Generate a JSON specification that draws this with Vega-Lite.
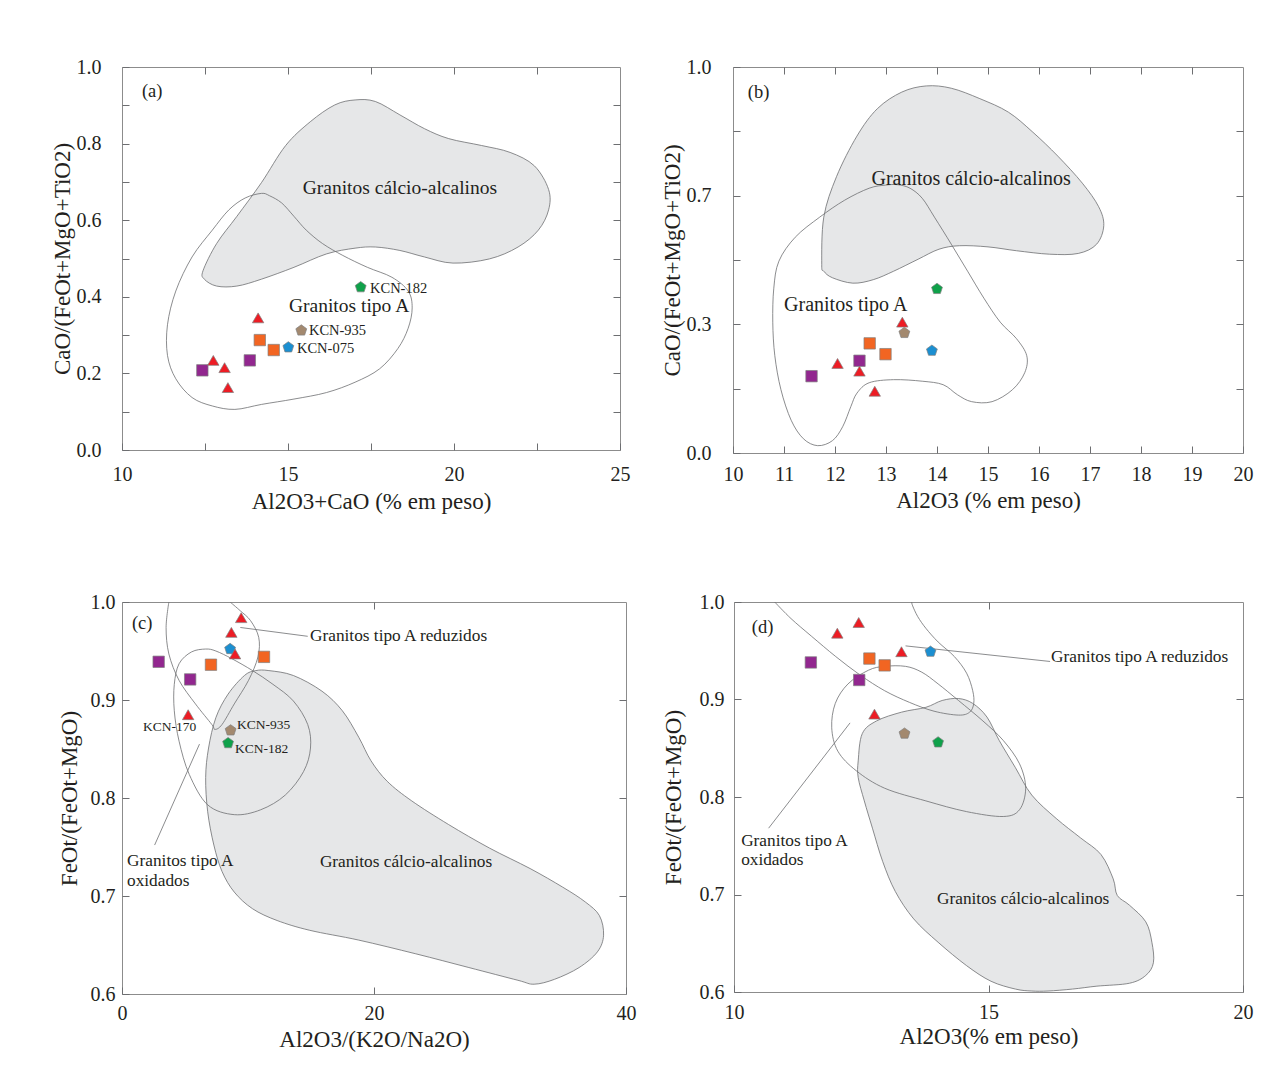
{
"$schema": "https://vega.github.io/schema/vega-lite/v6.json",
"background": "white",
"padding": {"left": 50, "top": 56, "right": 5, "bottom": 5},
"datasets": {
"samples": [
{"p":"a","g":"sqp","x":12.42,"y":0.208},{"p":"a","g":"tri","x":12.75,"y":0.234},{"p":"a","g":"tri","x":13.09,"y":0.215},{"p":"a","g":"tri","x":13.19,"y":0.163},{"p":"a","g":"sqp","x":13.85,"y":0.234},{"p":"a","g":"tri","x":14.10,"y":0.345},{"p":"a","g":"sqo","x":14.15,"y":0.287},{"p":"a","g":"sqo","x":14.57,"y":0.261},{"p":"a","g":"blue","x":15.01,"y":0.268},{"p":"a","g":"brown","x":15.40,"y":0.312},{"p":"a","g":"green","x":17.19,"y":0.425},
{"p":"b","g":"sqp","x":11.54,"y":0.199},{"p":"b","g":"tri","x":12.05,"y":0.232},{"p":"b","g":"sqp","x":12.48,"y":0.239},{"p":"b","g":"tri","x":12.48,"y":0.212},{"p":"b","g":"tri","x":12.78,"y":0.160},{"p":"b","g":"sqo","x":12.68,"y":0.284},{"p":"b","g":"sqo","x":12.99,"y":0.256},{"p":"b","g":"tri","x":13.32,"y":0.339},{"p":"b","g":"brown","x":13.36,"y":0.311},{"p":"b","g":"blue","x":13.90,"y":0.265},{"p":"b","g":"green","x":14.00,"y":0.425},
{"p":"c","g":"sqp","x":2.91,"y":0.939},{"p":"c","g":"sqp","x":5.41,"y":0.921},{"p":"c","g":"sqo","x":7.06,"y":0.936},{"p":"c","g":"blue","x":8.58,"y":0.952},{"p":"c","g":"tri","x":8.68,"y":0.969},{"p":"c","g":"tri","x":9.46,"y":0.984},{"p":"c","g":"tri","x":8.97,"y":0.947},{"p":"c","g":"sqo","x":11.27,"y":0.944},{"p":"c","g":"tri","x":5.25,"y":0.885},{"p":"c","g":"brown","x":8.62,"y":0.869},{"p":"c","g":"green","x":8.42,"y":0.856},
{"p":"d","g":"sqp","x":11.51,"y":0.938},{"p":"d","g":"tri","x":12.03,"y":0.968},{"p":"d","g":"tri","x":12.45,"y":0.979},{"p":"d","g":"sqo","x":12.66,"y":0.942},{"p":"d","g":"sqo","x":12.96,"y":0.935},{"p":"d","g":"tri","x":13.29,"y":0.949},{"p":"d","g":"blue","x":13.86,"y":0.949},{"p":"d","g":"sqp","x":12.46,"y":0.920},{"p":"d","g":"tri","x":12.76,"y":0.885},{"p":"d","g":"brown","x":13.35,"y":0.865},{"p":"d","g":"green","x":14.01,"y":0.856}
],
"fields": [
{"p":"a","f":"calc","i":0,"x":12.44,"y":0.468},{"p":"a","f":"calc","i":1,"x":12.85,"y":0.539},{"p":"a","f":"calc","i":2,"x":13.46,"y":0.610},{"p":"a","f":"calc","i":3,"x":14.20,"y":0.698},{"p":"a","f":"calc","i":4,"x":14.93,"y":0.795},{"p":"a","f":"calc","i":5,"x":15.67,"y":0.857},{"p":"a","f":"calc","i":6,"x":16.41,"y":0.901},{"p":"a","f":"calc","i":7,"x":17.02,"y":0.914},{"p":"a","f":"calc","i":8,"x":17.63,"y":0.910},{"p":"a","f":"calc","i":9,"x":18.37,"y":0.875},{"p":"a","f":"calc","i":10,"x":19.11,"y":0.839},{"p":"a","f":"calc","i":11,"x":19.84,"y":0.813},{"p":"a","f":"calc","i":12,"x":20.83,"y":0.795},{"p":"a","f":"calc","i":13,"x":21.69,"y":0.777},{"p":"a","f":"calc","i":14,"x":22.42,"y":0.742},{"p":"a","f":"calc","i":15,"x":22.85,"y":0.680},{"p":"a","f":"calc","i":16,"x":22.85,"y":0.627},{"p":"a","f":"calc","i":17,"x":22.54,"y":0.574},{"p":"a","f":"calc","i":18,"x":21.93,"y":0.530},{"p":"a","f":"calc","i":19,"x":21.07,"y":0.499},{"p":"a","f":"calc","i":20,"x":19.97,"y":0.488},{"p":"a","f":"calc","i":21,"x":19.11,"y":0.504},{"p":"a","f":"calc","i":22,"x":18.37,"y":0.521},{"p":"a","f":"calc","i":23,"x":17.63,"y":0.530},{"p":"a","f":"calc","i":24,"x":17.02,"y":0.527},{"p":"a","f":"calc","i":25,"x":16.16,"y":0.512},{"p":"a","f":"calc","i":26,"x":15.18,"y":0.477},{"p":"a","f":"calc","i":27,"x":14.20,"y":0.446},{"p":"a","f":"calc","i":28,"x":13.46,"y":0.428},{"p":"a","f":"calc","i":29,"x":12.85,"y":0.428},{"p":"a","f":"calc","i":30,"x":12.48,"y":0.446},
{"p":"a","f":"tA","i":0,"x":14.20,"y":0.670},{"p":"a","f":"tA","i":1,"x":13.71,"y":0.658},{"p":"a","f":"tA","i":2,"x":13.22,"y":0.627},{"p":"a","f":"tA","i":3,"x":12.72,"y":0.574},{"p":"a","f":"tA","i":4,"x":12.11,"y":0.504},{"p":"a","f":"tA","i":5,"x":11.62,"y":0.415},{"p":"a","f":"tA","i":6,"x":11.37,"y":0.327},{"p":"a","f":"tA","i":7,"x":11.37,"y":0.247},{"p":"a","f":"tA","i":8,"x":11.62,"y":0.186},{"p":"a","f":"tA","i":9,"x":12.11,"y":0.137},{"p":"a","f":"tA","i":10,"x":12.72,"y":0.115},{"p":"a","f":"tA","i":11,"x":13.40,"y":0.106},{"p":"a","f":"tA","i":12,"x":14.20,"y":0.119},{"p":"a","f":"tA","i":13,"x":15.18,"y":0.133},{"p":"a","f":"tA","i":14,"x":16.16,"y":0.150},{"p":"a","f":"tA","i":15,"x":17.02,"y":0.177},{"p":"a","f":"tA","i":16,"x":17.76,"y":0.212},{"p":"a","f":"tA","i":17,"x":18.31,"y":0.265},{"p":"a","f":"tA","i":18,"x":18.62,"y":0.318},{"p":"a","f":"tA","i":19,"x":18.74,"y":0.371},{"p":"a","f":"tA","i":20,"x":18.62,"y":0.415},{"p":"a","f":"tA","i":21,"x":18.13,"y":0.451},{"p":"a","f":"tA","i":22,"x":17.39,"y":0.477},{"p":"a","f":"tA","i":23,"x":16.65,"y":0.508},{"p":"a","f":"tA","i":24,"x":16.04,"y":0.539},{"p":"a","f":"tA","i":25,"x":15.55,"y":0.574},{"p":"a","f":"tA","i":26,"x":15.18,"y":0.610},{"p":"a","f":"tA","i":27,"x":14.81,"y":0.645},{"p":"a","f":"tA","i":28,"x":14.44,"y":0.664},
{"p":"b","f":"calc","i":0,"x":11.74,"y":0.489},{"p":"b","f":"calc","i":1,"x":11.78,"y":0.611},{"p":"b","f":"calc","i":2,"x":12.03,"y":0.716},{"p":"b","f":"calc","i":3,"x":12.43,"y":0.821},{"p":"b","f":"calc","i":4,"x":12.83,"y":0.892},{"p":"b","f":"calc","i":5,"x":13.31,"y":0.935},{"p":"b","f":"calc","i":6,"x":13.79,"y":0.951},{"p":"b","f":"calc","i":7,"x":14.28,"y":0.945},{"p":"b","f":"calc","i":8,"x":14.84,"y":0.918},{"p":"b","f":"calc","i":9,"x":15.40,"y":0.883},{"p":"b","f":"calc","i":10,"x":15.88,"y":0.831},{"p":"b","f":"calc","i":11,"x":16.37,"y":0.769},{"p":"b","f":"calc","i":12,"x":16.85,"y":0.699},{"p":"b","f":"calc","i":13,"x":17.17,"y":0.638},{"p":"b","f":"calc","i":14,"x":17.27,"y":0.589},{"p":"b","f":"calc","i":15,"x":17.13,"y":0.541},{"p":"b","f":"calc","i":16,"x":16.77,"y":0.517},{"p":"b","f":"calc","i":17,"x":16.21,"y":0.515},{"p":"b","f":"calc","i":18,"x":15.56,"y":0.524},{"p":"b","f":"calc","i":19,"x":15.00,"y":0.534},{"p":"b","f":"calc","i":20,"x":14.44,"y":0.537},{"p":"b","f":"calc","i":21,"x":14.04,"y":0.528},{"p":"b","f":"calc","i":22,"x":13.63,"y":0.502},{"p":"b","f":"calc","i":23,"x":13.15,"y":0.471},{"p":"b","f":"calc","i":24,"x":12.75,"y":0.449},{"p":"b","f":"calc","i":25,"x":12.35,"y":0.440},{"p":"b","f":"calc","i":26,"x":11.95,"y":0.454},{"p":"b","f":"calc","i":27,"x":11.78,"y":0.471},
{"p":"b","f":"tA","i":0,"x":12.99,"y":0.694},{"p":"b","f":"tA","i":1,"x":12.67,"y":0.686},{"p":"b","f":"tA","i":2,"x":12.19,"y":0.655},{"p":"b","f":"tA","i":3,"x":11.70,"y":0.611},{"p":"b","f":"tA","i":4,"x":11.22,"y":0.559},{"p":"b","f":"tA","i":5,"x":10.90,"y":0.497},{"p":"b","f":"tA","i":6,"x":10.80,"y":0.427},{"p":"b","f":"tA","i":7,"x":10.78,"y":0.339},{"p":"b","f":"tA","i":8,"x":10.82,"y":0.252},{"p":"b","f":"tA","i":9,"x":10.94,"y":0.164},{"p":"b","f":"tA","i":10,"x":11.14,"y":0.085},{"p":"b","f":"tA","i":11,"x":11.38,"y":0.037},{"p":"b","f":"tA","i":12,"x":11.66,"y":0.019},{"p":"b","f":"tA","i":13,"x":11.95,"y":0.032},{"p":"b","f":"tA","i":14,"x":12.15,"y":0.068},{"p":"b","f":"tA","i":15,"x":12.31,"y":0.120},{"p":"b","f":"tA","i":16,"x":12.43,"y":0.155},{"p":"b","f":"tA","i":17,"x":12.67,"y":0.182},{"p":"b","f":"tA","i":18,"x":13.15,"y":0.190},{"p":"b","f":"tA","i":19,"x":13.71,"y":0.186},{"p":"b","f":"tA","i":20,"x":14.12,"y":0.177},{"p":"b","f":"tA","i":21,"x":14.40,"y":0.151},{"p":"b","f":"tA","i":22,"x":14.68,"y":0.133},{"p":"b","f":"tA","i":23,"x":15.08,"y":0.133},{"p":"b","f":"tA","i":24,"x":15.48,"y":0.164},{"p":"b","f":"tA","i":25,"x":15.72,"y":0.208},{"p":"b","f":"tA","i":26,"x":15.76,"y":0.252},{"p":"b","f":"tA","i":27,"x":15.56,"y":0.296},{"p":"b","f":"tA","i":28,"x":15.24,"y":0.339},{"p":"b","f":"tA","i":29,"x":14.92,"y":0.401},{"p":"b","f":"tA","i":30,"x":14.60,"y":0.471},{"p":"b","f":"tA","i":31,"x":14.28,"y":0.541},{"p":"b","f":"tA","i":32,"x":13.95,"y":0.611},{"p":"b","f":"tA","i":33,"x":13.71,"y":0.660},{"p":"b","f":"tA","i":34,"x":13.47,"y":0.686},{"p":"b","f":"tA","i":35,"x":13.23,"y":0.695},
{"p":"c","f":"calc","i":0,"x":10.62,"y":0.930},{"p":"c","f":"calc","i":1,"x":9.72,"y":0.925},{"p":"c","f":"calc","i":2,"x":8.42,"y":0.906},{"p":"c","f":"calc","i":3,"x":7.45,"y":0.882},{"p":"c","f":"calc","i":4,"x":6.87,"y":0.851},{"p":"c","f":"calc","i":5,"x":6.64,"y":0.821},{"p":"c","f":"calc","i":6,"x":6.80,"y":0.786},{"p":"c","f":"calc","i":7,"x":7.29,"y":0.752},{"p":"c","f":"calc","i":8,"x":7.94,"y":0.725},{"p":"c","f":"calc","i":9,"x":8.91,"y":0.704},{"p":"c","f":"calc","i":10,"x":10.36,"y":0.687},{"p":"c","f":"calc","i":11,"x":12.31,"y":0.675},{"p":"c","f":"calc","i":12,"x":14.90,"y":0.665},{"p":"c","f":"calc","i":13,"x":18.79,"y":0.655},{"p":"c","f":"calc","i":14,"x":23.32,"y":0.641},{"p":"c","f":"calc","i":15,"x":27.53,"y":0.627},{"p":"c","f":"calc","i":16,"x":31.42,"y":0.614},{"p":"c","f":"calc","i":17,"x":32.71,"y":0.610},{"p":"c","f":"calc","i":18,"x":34.33,"y":0.615},{"p":"c","f":"calc","i":19,"x":36.28,"y":0.627},{"p":"c","f":"calc","i":20,"x":37.73,"y":0.643},{"p":"c","f":"calc","i":21,"x":38.22,"y":0.660},{"p":"c","f":"calc","i":22,"x":37.89,"y":0.680},{"p":"c","f":"calc","i":23,"x":36.76,"y":0.694},{"p":"c","f":"calc","i":24,"x":34.98,"y":0.709},{"p":"c","f":"calc","i":25,"x":32.39,"y":0.728},{"p":"c","f":"calc","i":26,"x":29.15,"y":0.749},{"p":"c","f":"calc","i":27,"x":25.91,"y":0.773},{"p":"c","f":"calc","i":28,"x":23.00,"y":0.797},{"p":"c","f":"calc","i":29,"x":21.05,"y":0.817},{"p":"c","f":"calc","i":30,"x":19.76,"y":0.838},{"p":"c","f":"calc","i":31,"x":18.79,"y":0.862},{"p":"c","f":"calc","i":32,"x":17.49,"y":0.889},{"p":"c","f":"calc","i":33,"x":15.87,"y":0.909},{"p":"c","f":"calc","i":34,"x":13.60,"y":0.925},{"p":"c","f":"calc","i":35,"x":11.66,"y":0.930},
{"p":"c","f":"red","i":0,"x":3.72,"y":1.0},{"p":"c","f":"red","i":1,"x":3.50,"y":0.974},{"p":"c","f":"red","i":2,"x":3.72,"y":0.947},{"p":"c","f":"red","i":3,"x":4.53,"y":0.920},{"p":"c","f":"red","i":4,"x":5.83,"y":0.896},{"p":"c","f":"red","i":5,"x":7.13,"y":0.875},{"p":"c","f":"red","i":6,"x":7.38,"y":0.870},{"p":"c","f":"red","i":7,"x":7.94,"y":0.875},{"p":"c","f":"red","i":8,"x":8.91,"y":0.896},{"p":"c","f":"red","i":9,"x":10.04,"y":0.920},{"p":"c","f":"red","i":10,"x":10.79,"y":0.944},{"p":"c","f":"red","i":11,"x":10.85,"y":0.964},{"p":"c","f":"red","i":12,"x":10.20,"y":0.981},{"p":"c","f":"red","i":13,"x":9.39,"y":0.991},{"p":"c","f":"red","i":14,"x":8.58,"y":1.0},
{"p":"c","f":"ox","i":0,"x":6.64,"y":0.952},{"p":"c","f":"ox","i":1,"x":5.51,"y":0.949},{"p":"c","f":"ox","i":2,"x":4.53,"y":0.937},{"p":"c","f":"ox","i":3,"x":4.15,"y":0.916},{"p":"c","f":"ox","i":4,"x":4.15,"y":0.889},{"p":"c","f":"ox","i":5,"x":4.53,"y":0.858},{"p":"c","f":"ox","i":6,"x":5.34,"y":0.824},{"p":"c","f":"ox","i":7,"x":6.80,"y":0.793},{"p":"c","f":"ox","i":8,"x":8.91,"y":0.783},{"p":"c","f":"ox","i":9,"x":11.01,"y":0.788},{"p":"c","f":"ox","i":10,"x":12.96,"y":0.803},{"p":"c","f":"ox","i":11,"x":14.41,"y":0.827},{"p":"c","f":"ox","i":12,"x":14.96,"y":0.851},{"p":"c","f":"ox","i":13,"x":14.74,"y":0.875},{"p":"c","f":"ox","i":14,"x":13.60,"y":0.899},{"p":"c","f":"ox","i":15,"x":11.98,"y":0.916},{"p":"c","f":"ox","i":16,"x":10.36,"y":0.930},{"p":"c","f":"ox","i":17,"x":8.74,"y":0.942},{"p":"c","f":"ox","i":18,"x":7.45,"y":0.950},
{"p":"d","f":"calc","i":0,"x":12.44,"y":0.837},{"p":"d","f":"calc","i":1,"x":12.52,"y":0.865},{"p":"d","f":"calc","i":2,"x":12.80,"y":0.878},{"p":"d","f":"calc","i":3,"x":13.29,"y":0.887},{"p":"d","f":"calc","i":4,"x":13.77,"y":0.892},{"p":"d","f":"calc","i":5,"x":14.09,"y":0.899},{"p":"d","f":"calc","i":6,"x":14.41,"y":0.901},{"p":"d","f":"calc","i":7,"x":14.69,"y":0.896},{"p":"d","f":"calc","i":8,"x":14.97,"y":0.882},{"p":"d","f":"calc","i":9,"x":15.21,"y":0.858},{"p":"d","f":"calc","i":10,"x":15.53,"y":0.830},{"p":"d","f":"calc","i":11,"x":15.85,"y":0.802},{"p":"d","f":"calc","i":12,"x":16.33,"y":0.778},{"p":"d","f":"calc","i":13,"x":16.81,"y":0.758},{"p":"d","f":"calc","i":14,"x":17.21,"y":0.741},{"p":"d","f":"calc","i":15,"x":17.45,"y":0.716},{"p":"d","f":"calc","i":16,"x":17.53,"y":0.699},{"p":"d","f":"calc","i":17,"x":17.77,"y":0.689},{"p":"d","f":"calc","i":18,"x":18.09,"y":0.672},{"p":"d","f":"calc","i":19,"x":18.21,"y":0.651},{"p":"d","f":"calc","i":20,"x":18.24,"y":0.630},{"p":"d","f":"calc","i":21,"x":18.09,"y":0.617},{"p":"d","f":"calc","i":22,"x":17.77,"y":0.609},{"p":"d","f":"calc","i":23,"x":17.13,"y":0.606},{"p":"d","f":"calc","i":24,"x":16.65,"y":0.603},{"p":"d","f":"calc","i":25,"x":16.17,"y":0.601},{"p":"d","f":"calc","i":26,"x":15.85,"y":0.601},{"p":"d","f":"calc","i":27,"x":15.53,"y":0.603},{"p":"d","f":"calc","i":28,"x":15.05,"y":0.611},{"p":"d","f":"calc","i":29,"x":14.57,"y":0.627},{"p":"d","f":"calc","i":30,"x":14.01,"y":0.651},{"p":"d","f":"calc","i":31,"x":13.53,"y":0.675},{"p":"d","f":"calc","i":32,"x":13.17,"y":0.703},{"p":"d","f":"calc","i":33,"x":12.92,"y":0.734},{"p":"d","f":"calc","i":34,"x":12.72,"y":0.768},{"p":"d","f":"calc","i":35,"x":12.56,"y":0.796},{"p":"d","f":"calc","i":36,"x":12.44,"y":0.820},
{"p":"d","f":"red","i":0,"x":10.80,"y":1.0},{"p":"d","f":"red","i":1,"x":11.12,"y":0.983},{"p":"d","f":"red","i":2,"x":11.52,"y":0.965},{"p":"d","f":"red","i":3,"x":12.00,"y":0.944},{"p":"d","f":"red","i":4,"x":12.48,"y":0.925},{"p":"d","f":"red","i":5,"x":12.96,"y":0.909},{"p":"d","f":"red","i":6,"x":13.45,"y":0.897},{"p":"d","f":"red","i":7,"x":13.93,"y":0.888},{"p":"d","f":"red","i":8,"x":14.41,"y":0.884},{"p":"d","f":"red","i":9,"x":14.63,"y":0.887},{"p":"d","f":"red","i":10,"x":14.71,"y":0.896},{"p":"d","f":"red","i":11,"x":14.69,"y":0.909},{"p":"d","f":"red","i":12,"x":14.57,"y":0.927},{"p":"d","f":"red","i":13,"x":14.33,"y":0.944},{"p":"d","f":"red","i":14,"x":14.01,"y":0.959},{"p":"d","f":"red","i":15,"x":13.77,"y":0.973},{"p":"d","f":"red","i":16,"x":13.61,"y":0.985},{"p":"d","f":"red","i":17,"x":13.51,"y":0.996},{"p":"d","f":"red","i":18,"x":13.49,"y":1.0},
{"p":"d","f":"ox","i":0,"x":12.96,"y":0.934},{"p":"d","f":"ox","i":1,"x":12.64,"y":0.930},{"p":"d","f":"ox","i":2,"x":12.24,"y":0.916},{"p":"d","f":"ox","i":3,"x":11.99,"y":0.896},{"p":"d","f":"ox","i":4,"x":11.92,"y":0.871},{"p":"d","f":"ox","i":5,"x":12.04,"y":0.847},{"p":"d","f":"ox","i":6,"x":12.40,"y":0.827},{"p":"d","f":"ox","i":7,"x":12.96,"y":0.809},{"p":"d","f":"ox","i":8,"x":13.77,"y":0.796},{"p":"d","f":"ox","i":9,"x":14.57,"y":0.785},{"p":"d","f":"ox","i":10,"x":15.29,"y":0.780},{"p":"d","f":"ox","i":11,"x":15.61,"y":0.787},{"p":"d","f":"ox","i":12,"x":15.73,"y":0.809},{"p":"d","f":"ox","i":13,"x":15.61,"y":0.834},{"p":"d","f":"ox","i":14,"x":15.29,"y":0.858},{"p":"d","f":"ox","i":15,"x":14.89,"y":0.878},{"p":"d","f":"ox","i":16,"x":14.41,"y":0.899},{"p":"d","f":"ox","i":17,"x":14.01,"y":0.916},{"p":"d","f":"ox","i":18,"x":13.69,"y":0.928},{"p":"d","f":"ox","i":19,"x":13.37,"y":0.934}
],
"leaders": [
{"p":"c","x":9.39,"y":0.974,"x2":14.74,"y2":0.965},{"p":"c","x":6.15,"y":0.855,"x2":2.59,"y2":0.752},
{"p":"d","x":13.37,"y":0.955,"x2":16.21,"y2":0.939},{"p":"d","x":12.28,"y":0.876,"x2":10.68,"y2":0.768}
],
"labels": [
{"p":"a","k":"field","t":"Granitos cálcio-alcalinos","x":18.37,"y":0.684},{"p":"a","k":"field","t":"Granitos tipo A","x":16.84,"y":0.376},{"p":"a","k":"kcn","t":"KCN-182","x":17.47,"y":0.421},{"p":"a","k":"kcn","t":"KCN-935","x":15.63,"y":0.311},{"p":"a","k":"kcn","t":"KCN-075","x":15.27,"y":0.264},{"p":"a","k":"tag","t":"(a)","x":10.60,"y":0.937},
{"p":"b","k":"field","t":"Granitos cálcio-alcalinos","x":14.67,"y":0.710},{"p":"b","k":"field","t":"Granitos tipo A","x":12.21,"y":0.383},{"p":"b","k":"tag","t":"(b)","x":10.29,"y":0.935},
{"p":"c","k":"field","t":"Granitos cálcio-alcalinos","x":22.54,"y":0.735},{"p":"c","k":"note","t":"Granitos tipo A reduzidos","x":14.92,"y":0.965},{"p":"c","k":"note","t":"Granitos tipo A\noxidados","x":0.40,"y":0.7357},{"p":"c","k":"kcn","t":"KCN-170","x":1.67,"y":0.8724},{"p":"c","k":"kcn","t":"KCN-935","x":9.13,"y":0.8745},{"p":"c","k":"kcn","t":"KCN-182","x":8.97,"y":0.85},{"p":"c","k":"tag","t":"(c)","x":0.79,"y":0.979},
{"p":"d","k":"field","t":"Granitos cálcio-alcalinos","x":15.68,"y":0.695},{"p":"d","k":"note","t":"Granitos tipo A reduzidos","x":16.23,"y":0.944},{"p":"d","k":"note","t":"Granitos tipo A\noxidados","x":10.14,"y":0.755},{"p":"d","k":"tag","t":"(d)","x":10.35,"y":0.974}
]
},
"vconcat": [
{"hconcat": [
{"width": 498, "height": 383,
 "layer": [
  {"data": {"name": "fields"}, "transform": [{"filter": "datum.p=='a' && datum.f=='calc'"}],
   "mark": {"type": "line", "interpolate": "cardinal-closed", "fill": "#e6e7e8", "stroke": "#6d6e71", "strokeWidth": 0.8, "clip": true},
   "encoding": {
    "x": {"field": "x", "type": "quantitative", "scale": {"domain": [10, 25], "nice": false, "zero": false}, "axis": {"orient": "top", "values": [12.5, 15, 17.5, 20, 22.5], "labels": false, "title": null, "tickSize": -7}},
    "y": {"field": "y", "type": "quantitative", "scale": {"domain": [0, 1], "nice": false, "zero": false}, "axis": {"orient": "right", "values": [0.1, 0.2, 0.3, 0.4, 0.5, 0.6, 0.7, 0.8, 0.9], "labels": false, "title": null, "tickSize": -7}},
    "order": {"field": "i", "type": "quantitative"}}},
  {"data": {"name": "fields"}, "transform": [{"filter": "datum.p=='a' && datum.f=='tA'"}],
   "mark": {"type": "line", "interpolate": "cardinal-closed", "stroke": "#6d6e71", "strokeWidth": 0.8, "clip": true},
   "encoding": {
    "x": {"field": "x", "type": "quantitative", "scale": {"domain": [10, 25], "nice": false, "zero": false}, "axis": null},
    "y": {"field": "y", "type": "quantitative", "scale": {"domain": [0, 1], "nice": false, "zero": false}, "axis": null},
    "order": {"field": "i", "type": "quantitative"}}},
  {"data": {"name": "samples"}, "transform": [{"filter": "datum.p=='a'"}],
   "mark": {"type": "point", "filled": true, "size": 130, "opacity": 1, "stroke": "#7f7f7f", "strokeWidth": 0.7},
   "encoding": {
    "x": {"field": "x", "type": "quantitative", "scale": {"domain": [10, 25], "nice": false, "zero": false}, "axis": {"orient": "bottom", "values": [10, 12.5, 15, 17.5, 20, 22.5, 25], "labelExpr": "datum.value % 5 == 0 ? format(datum.value, 'd') : ''", "tickSize": -7, "labelPadding": 21, "labelFlush": false, "labelOverlap": false, "title": "Al2O3+CaO (% em peso)", "titlePadding": 6}},
    "y": {"field": "y", "type": "quantitative", "scale": {"domain": [0, 1], "nice": false, "zero": false}, "axis": {"orient": "left", "values": [0, 0.1, 0.2, 0.3, 0.4, 0.5, 0.6, 0.7, 0.8, 0.9, 1], "labelExpr": "round(datum.value * 10) % 2 == 0 ? format(datum.value, '.1f') : ''", "tickSize": -7, "labelPadding": 28, "labelFlush": false, "labelOverlap": false, "title": "CaO/(FeOt+MgO+TiO2)", "titlePadding": 2}},
    "shape": {"field": "g", "type": "nominal", "legend": null, "scale": {"domain": ["tri", "sqo", "sqp", "blue", "green", "brown"], "range": ["triangle-up", "square", "square", "M0,-1L0.951,-0.309L0.588,0.809L-0.588,0.809L-0.951,-0.309Z", "M0,-1L0.951,-0.309L0.588,0.809L-0.588,0.809L-0.951,-0.309Z", "M0,-1L0.951,-0.309L0.588,0.809L-0.588,0.809L-0.951,-0.309Z"]}},
    "color": {"field": "g", "type": "nominal", "legend": null, "scale": {"domain": ["tri", "sqo", "sqp", "blue", "green", "brown"], "range": ["#ed1c24", "#f26522", "#92278f", "#1b8fd1", "#0fa14a", "#a3896f"]}}}},
  {"data": {"name": "labels"}, "transform": [{"filter": "datum.p=='a' && datum.k=='field'"}],
   "mark": {"type": "text", "font": "Liberation Serif", "fontSize": 19.5, "align": "center", "baseline": "middle", "color": "#231f20"},
   "encoding": {"x": {"field": "x", "type": "quantitative", "axis": null}, "y": {"field": "y", "type": "quantitative", "axis": null}, "text": {"field": "t"}}},
  {"data": {"name": "labels"}, "transform": [{"filter": "datum.p=='a' && datum.k=='kcn'"}],
   "mark": {"type": "text", "font": "Liberation Serif", "fontSize": 14.5, "align": "left", "baseline": "middle", "color": "#231f20"},
   "encoding": {"x": {"field": "x", "type": "quantitative", "axis": null}, "y": {"field": "y", "type": "quantitative", "axis": null}, "text": {"field": "t"}}},
  {"data": {"name": "labels"}, "transform": [{"filter": "datum.p=='a' && datum.k=='tag'"}],
   "mark": {"type": "text", "font": "Liberation Serif", "fontSize": 18.5, "align": "left", "baseline": "middle", "color": "#231f20"},
   "encoding": {"x": {"field": "x", "type": "quantitative", "axis": null}, "y": {"field": "y", "type": "quantitative", "axis": null}, "text": {"field": "t"}}}
 ],
 "resolve": {"axis": {"x": "independent", "y": "independent"}}
},
{"width": 510, "height": 386,
 "layer": [
  {"data": {"name": "fields"}, "transform": [{"filter": "datum.p=='b' && datum.f=='calc'"}],
   "mark": {"type": "line", "interpolate": "cardinal-closed", "fill": "#e6e7e8", "stroke": "#6d6e71", "strokeWidth": 0.8, "clip": true},
   "encoding": {
    "x": {"field": "x", "type": "quantitative", "scale": {"domain": [10, 20], "nice": false, "zero": false}, "axis": {"orient": "top", "values": [11, 12, 13, 14, 15, 16, 17, 18, 19], "labels": false, "title": null, "tickSize": -7}},
    "y": {"field": "y", "type": "quantitative", "scale": {"domain": [0, 1], "nice": false, "zero": false}, "axis": {"orient": "right", "values": [0.16667, 0.33333, 0.5, 0.66667, 0.83333], "labels": false, "title": null, "tickSize": -7}},
    "order": {"field": "i", "type": "quantitative"}}},
  {"data": {"name": "fields"}, "transform": [{"filter": "datum.p=='b' && datum.f=='tA'"}],
   "mark": {"type": "line", "interpolate": "cardinal-closed", "stroke": "#6d6e71", "strokeWidth": 0.8, "clip": true},
   "encoding": {
    "x": {"field": "x", "type": "quantitative", "scale": {"domain": [10, 20], "nice": false, "zero": false}, "axis": null},
    "y": {"field": "y", "type": "quantitative", "scale": {"domain": [0, 1], "nice": false, "zero": false}, "axis": null},
    "order": {"field": "i", "type": "quantitative"}}},
  {"data": {"name": "samples"}, "transform": [{"filter": "datum.p=='b'"}],
   "mark": {"type": "point", "filled": true, "size": 130, "opacity": 1, "stroke": "#7f7f7f", "strokeWidth": 0.7},
   "encoding": {
    "x": {"field": "x", "type": "quantitative", "scale": {"domain": [10, 20], "nice": false, "zero": false}, "axis": {"orient": "bottom", "values": [10, 11, 12, 13, 14, 15, 16, 17, 18, 19, 20], "format": "d", "tickSize": -7, "labelPadding": 18, "labelFlush": false, "labelOverlap": false, "title": "Al2O3 (% em peso)", "titlePadding": 5}},
    "y": {"field": "y", "type": "quantitative", "scale": {"domain": [0, 1], "nice": false, "zero": false}, "axis": {"orient": "left", "values": [0, 0.16667, 0.33333, 0.5, 0.66667, 0.83333, 1], "labelExpr": "abs(datum.value * 3 - round(datum.value * 3)) < 0.01 ? format(datum.value, '.1f') : ''", "tickSize": -7, "labelPadding": 29, "labelFlush": false, "labelOverlap": false, "title": "CaO/(FeOt+MgO+TiO2)", "titlePadding": 2}},
    "shape": {"field": "g", "type": "nominal", "legend": null},
    "color": {"field": "g", "type": "nominal", "legend": null}}},
  {"data": {"name": "labels"}, "transform": [{"filter": "datum.p=='b' && datum.k=='field'"}],
   "mark": {"type": "text", "font": "Liberation Serif", "fontSize": 20, "align": "center", "baseline": "middle", "color": "#231f20"},
   "encoding": {"x": {"field": "x", "type": "quantitative", "axis": null}, "y": {"field": "y", "type": "quantitative", "axis": null}, "text": {"field": "t"}}},
  {"data": {"name": "labels"}, "transform": [{"filter": "datum.p=='b' && datum.k=='tag'"}],
   "mark": {"type": "text", "font": "Liberation Serif", "fontSize": 18.5, "align": "left", "baseline": "middle", "color": "#231f20"},
   "encoding": {"x": {"field": "x", "type": "quantitative", "axis": null}, "y": {"field": "y", "type": "quantitative", "axis": null}, "text": {"field": "t"}}}
 ],
 "resolve": {"axis": {"x": "independent", "y": "independent"}}
}
], "spacing": 113, "bounds": "flush"},
{"hconcat": [
{"width": 504, "height": 392,
 "layer": [
  {"data": {"name": "fields"}, "transform": [{"filter": "datum.p=='c' && datum.f=='calc'"}],
   "mark": {"type": "line", "interpolate": "cardinal-closed", "fill": "#e6e7e8", "stroke": "#6d6e71", "strokeWidth": 0.8, "clip": true},
   "encoding": {
    "x": {"field": "x", "type": "quantitative", "scale": {"domain": [0, 40], "nice": false, "zero": false}, "axis": {"orient": "top", "values": [20], "labels": false, "title": null, "tickSize": -7}},
    "y": {"field": "y", "type": "quantitative", "scale": {"domain": [0.6, 1], "nice": false, "zero": false}, "axis": {"orient": "right", "values": [0.7, 0.8, 0.9], "labels": false, "title": null, "tickSize": -7}},
    "order": {"field": "i", "type": "quantitative"}}},
  {"data": {"name": "fields"}, "transform": [{"filter": "datum.p=='c' && datum.f=='ox'"}],
   "mark": {"type": "line", "interpolate": "cardinal-closed", "stroke": "#6d6e71", "strokeWidth": 0.8, "clip": true},
   "encoding": {
    "x": {"field": "x", "type": "quantitative", "scale": {"domain": [0, 40], "nice": false, "zero": false}, "axis": null},
    "y": {"field": "y", "type": "quantitative", "scale": {"domain": [0.6, 1], "nice": false, "zero": false}, "axis": null},
    "order": {"field": "i", "type": "quantitative"}}},
  {"data": {"name": "fields"}, "transform": [{"filter": "datum.p=='c' && datum.f=='red'"}],
   "mark": {"type": "line", "interpolate": "cardinal", "stroke": "#6d6e71", "strokeWidth": 0.8, "clip": true},
   "encoding": {
    "x": {"field": "x", "type": "quantitative", "scale": {"domain": [0, 40], "nice": false, "zero": false}, "axis": null},
    "y": {"field": "y", "type": "quantitative", "scale": {"domain": [0.6, 1], "nice": false, "zero": false}, "axis": null},
    "order": {"field": "i", "type": "quantitative"}}},
  {"data": {"name": "leaders"}, "transform": [{"filter": "datum.p=='c'"}],
   "mark": {"type": "rule", "stroke": "#6d6e71", "strokeWidth": 0.8},
   "encoding": {
    "x": {"field": "x", "type": "quantitative", "axis": null}, "y": {"field": "y", "type": "quantitative", "axis": null},
    "x2": {"field": "x2"}, "y2": {"field": "y2"}}},
  {"data": {"name": "samples"}, "transform": [{"filter": "datum.p=='c'"}],
   "mark": {"type": "point", "filled": true, "size": 130, "opacity": 1, "stroke": "#7f7f7f", "strokeWidth": 0.7},
   "encoding": {
    "x": {"field": "x", "type": "quantitative", "scale": {"domain": [0, 40], "nice": false, "zero": false}, "axis": {"orient": "bottom", "values": [0, 20, 40], "format": "d", "tickSize": -7, "labelPadding": 16, "labelFlush": false, "labelOverlap": false, "title": "Al2O3/(K2O/Na2O)", "titlePadding": 5}},
    "y": {"field": "y", "type": "quantitative", "scale": {"domain": [0.6, 1], "nice": false, "zero": false}, "axis": {"orient": "left", "values": [0.6, 0.7, 0.8, 0.9, 1], "format": ".1f", "tickSize": -7, "labelPadding": 14, "labelFlush": false, "labelOverlap": false, "title": "FeOt/(FeOt+MgO)", "titlePadding": 9}},
    "shape": {"field": "g", "type": "nominal", "legend": null},
    "color": {"field": "g", "type": "nominal", "legend": null}}},
  {"data": {"name": "labels"}, "transform": [{"filter": "datum.p=='c' && datum.k=='field'"}],
   "mark": {"type": "text", "font": "Liberation Serif", "fontSize": 17.3, "align": "center", "baseline": "middle", "color": "#231f20"},
   "encoding": {"x": {"field": "x", "type": "quantitative", "axis": null}, "y": {"field": "y", "type": "quantitative", "axis": null}, "text": {"field": "t"}}},
  {"data": {"name": "labels"}, "transform": [{"filter": "datum.p=='c' && datum.k=='note'"}],
   "mark": {"type": "text", "font": "Liberation Serif", "fontSize": 17.3, "align": "left", "baseline": "middle", "lineBreak": "\n", "lineHeight": 20, "color": "#231f20"},
   "encoding": {"x": {"field": "x", "type": "quantitative", "axis": null}, "y": {"field": "y", "type": "quantitative", "axis": null}, "text": {"field": "t"}}},
  {"data": {"name": "labels"}, "transform": [{"filter": "datum.p=='c' && datum.k=='kcn'"}],
   "mark": {"type": "text", "font": "Liberation Serif", "fontSize": 13.5, "align": "left", "baseline": "middle", "color": "#231f20"},
   "encoding": {"x": {"field": "x", "type": "quantitative", "axis": null}, "y": {"field": "y", "type": "quantitative", "axis": null}, "text": {"field": "t"}}},
  {"data": {"name": "labels"}, "transform": [{"filter": "datum.p=='c' && datum.k=='tag'"}],
   "mark": {"type": "text", "font": "Liberation Serif", "fontSize": 18.5, "align": "left", "baseline": "middle", "color": "#231f20"},
   "encoding": {"x": {"field": "x", "type": "quantitative", "axis": null}, "y": {"field": "y", "type": "quantitative", "axis": null}, "text": {"field": "t"}}}
 ],
 "resolve": {"axis": {"x": "independent", "y": "independent"}}
},
{"width": 509, "height": 390,
 "layer": [
  {"data": {"name": "fields"}, "transform": [{"filter": "datum.p=='d' && datum.f=='calc'"}],
   "mark": {"type": "line", "interpolate": "cardinal-closed", "fill": "#e6e7e8", "stroke": "#6d6e71", "strokeWidth": 0.8, "clip": true},
   "encoding": {
    "x": {"field": "x", "type": "quantitative", "scale": {"domain": [10, 20], "nice": false, "zero": false}, "axis": {"orient": "top", "values": [15], "labels": false, "title": null, "tickSize": -7}},
    "y": {"field": "y", "type": "quantitative", "scale": {"domain": [0.6, 1], "nice": false, "zero": false}, "axis": {"orient": "right", "values": [0.7, 0.8, 0.9], "labels": false, "title": null, "tickSize": -7}},
    "order": {"field": "i", "type": "quantitative"}}},
  {"data": {"name": "fields"}, "transform": [{"filter": "datum.p=='d' && datum.f=='ox'"}],
   "mark": {"type": "line", "interpolate": "cardinal-closed", "stroke": "#6d6e71", "strokeWidth": 0.8, "clip": true},
   "encoding": {
    "x": {"field": "x", "type": "quantitative", "scale": {"domain": [10, 20], "nice": false, "zero": false}, "axis": null},
    "y": {"field": "y", "type": "quantitative", "scale": {"domain": [0.6, 1], "nice": false, "zero": false}, "axis": null},
    "order": {"field": "i", "type": "quantitative"}}},
  {"data": {"name": "fields"}, "transform": [{"filter": "datum.p=='d' && datum.f=='red'"}],
   "mark": {"type": "line", "interpolate": "cardinal", "stroke": "#6d6e71", "strokeWidth": 0.8, "clip": true},
   "encoding": {
    "x": {"field": "x", "type": "quantitative", "scale": {"domain": [10, 20], "nice": false, "zero": false}, "axis": null},
    "y": {"field": "y", "type": "quantitative", "scale": {"domain": [0.6, 1], "nice": false, "zero": false}, "axis": null},
    "order": {"field": "i", "type": "quantitative"}}},
  {"data": {"name": "leaders"}, "transform": [{"filter": "datum.p=='d'"}],
   "mark": {"type": "rule", "stroke": "#6d6e71", "strokeWidth": 0.8},
   "encoding": {
    "x": {"field": "x", "type": "quantitative", "axis": null}, "y": {"field": "y", "type": "quantitative", "axis": null},
    "x2": {"field": "x2"}, "y2": {"field": "y2"}}},
  {"data": {"name": "samples"}, "transform": [{"filter": "datum.p=='d'"}],
   "mark": {"type": "point", "filled": true, "size": 130, "opacity": 1, "stroke": "#7f7f7f", "strokeWidth": 0.7},
   "encoding": {
    "x": {"field": "x", "type": "quantitative", "scale": {"domain": [10, 20], "nice": false, "zero": false}, "axis": {"orient": "bottom", "values": [10, 15, 20], "format": "d", "tickSize": -7, "labelPadding": 17, "labelFlush": false, "labelOverlap": false, "title": "Al2O3(% em peso)", "titlePadding": 3}},
    "y": {"field": "y", "type": "quantitative", "scale": {"domain": [0.6, 1], "nice": false, "zero": false}, "axis": {"orient": "left", "values": [0.6, 0.7, 0.8, 0.9, 1], "format": ".1f", "tickSize": -7, "labelPadding": 17, "labelFlush": false, "labelOverlap": false, "title": "FeOt/(FeOt+MgO)", "titlePadding": 14}},
    "shape": {"field": "g", "type": "nominal", "legend": null},
    "color": {"field": "g", "type": "nominal", "legend": null}}},
  {"data": {"name": "labels"}, "transform": [{"filter": "datum.p=='d' && datum.k=='field'"}],
   "mark": {"type": "text", "font": "Liberation Serif", "fontSize": 17.3, "align": "center", "baseline": "middle", "color": "#231f20"},
   "encoding": {"x": {"field": "x", "type": "quantitative", "axis": null}, "y": {"field": "y", "type": "quantitative", "axis": null}, "text": {"field": "t"}}},
  {"data": {"name": "labels"}, "transform": [{"filter": "datum.p=='d' && datum.k=='note'"}],
   "mark": {"type": "text", "font": "Liberation Serif", "fontSize": 17.3, "align": "left", "baseline": "middle", "lineBreak": "\n", "lineHeight": 19, "color": "#231f20"},
   "encoding": {"x": {"field": "x", "type": "quantitative", "axis": null}, "y": {"field": "y", "type": "quantitative", "axis": null}, "text": {"field": "t"}}},
  {"data": {"name": "labels"}, "transform": [{"filter": "datum.p=='d' && datum.k=='tag'"}],
   "mark": {"type": "text", "font": "Liberation Serif", "fontSize": 18.5, "align": "left", "baseline": "middle", "color": "#231f20"},
   "encoding": {"x": {"field": "x", "type": "quantitative", "axis": null}, "y": {"field": "y", "type": "quantitative", "axis": null}, "text": {"field": "t"}}}
 ],
 "resolve": {"axis": {"x": "independent", "y": "independent"}}
}
], "spacing": 108, "bounds": "flush"}
],
"spacing": 535,
"bounds": "flush",
"config": {
 "font": "Liberation Serif",
 "view": {"stroke": "#8c8c8c", "strokeWidth": 1},
 "axis": {"domain": false, "grid": false, "labelFont": "Liberation Serif", "titleFont": "Liberation Serif", "labelFontSize": 20, "titleFontSize": 23, "titleFontWeight": "normal", "labelColor": "#231f20", "titleColor": "#231f20", "tickColor": "#6d6e71", "tickWidth": 1}
}
}
